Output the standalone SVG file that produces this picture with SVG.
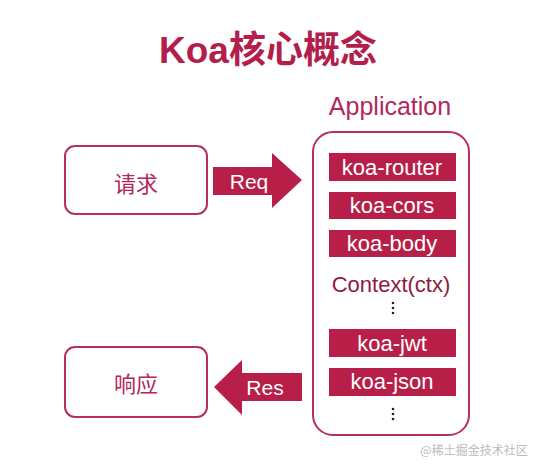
<svg xmlns="http://www.w3.org/2000/svg" width="539" height="470" viewBox="0 0 539 470">
<style>
.box{fill:#fff;stroke:#b8305a;stroke-width:2}
.mw{fill:#b81f48}
.wt{fill:#fff;font-family:"Liberation Sans",Arial,sans-serif;font-size:22px;text-anchor:middle}
.cn{fill:#b0285a;font-family:"Noto Sans CJK SC",sans-serif;font-size:22px;text-anchor:middle}
.dot{fill:#222}
</style>
<rect width="539" height="470" fill="#fff"/>
<g id="title"><text x="268" y="63" fill="#b31f4c" font-family="Liberation Sans,'Noto Sans CJK SC',sans-serif" font-weight="bold" font-size="37" text-anchor="middle">Koa核心概念</text></g>
<g id="request"><rect class="box" x="65" y="146" width="142" height="68" rx="10"/><text class="cn" x="136" y="192">请求</text></g>
<g id="response"><rect class="box" x="65" y="347" width="142" height="70" rx="10"/><text class="cn" x="136" y="392">响应</text></g>
<g id="application">
<text x="390" y="115" fill="#b0285a" font-family="Liberation Sans,Arial,sans-serif" font-size="25" text-anchor="middle">Application</text>
<rect x="313" y="132" width="156" height="303" rx="20" fill="#fff" stroke="#b8305a" stroke-width="2"/>
</g>
<g id="koa-router"><rect class="mw" x="329" y="153" width="127" height="28"/><text class="wt" x="392" y="175">koa-router</text></g>
<g id="koa-cors"><rect class="mw" x="329" y="192" width="127" height="27"/><text class="wt" x="392" y="213">koa-cors</text></g>
<g id="koa-body"><rect class="mw" x="329" y="230" width="127" height="27"/><text class="wt" x="392" y="251">koa-body</text></g>
<g id="context"><text x="391" y="292" fill="#8e1b3e" font-family="Liberation Sans,Arial,sans-serif" font-size="22" text-anchor="middle">Context(ctx)</text>
<circle class="dot" cx="393" cy="303" r="1.3"/><circle class="dot" cx="393" cy="308" r="1.3"/><circle class="dot" cx="393" cy="313" r="1.3"/></g>
<g id="koa-jwt"><rect class="mw" x="329" y="329" width="127" height="28"/><text class="wt" x="392" y="351">koa-jwt</text></g>
<g id="koa-json"><rect class="mw" x="329" y="368" width="127" height="28"/><text class="wt" x="392" y="389">koa-json</text></g>
<g id="more"><circle class="dot" cx="393" cy="409" r="1.3"/><circle class="dot" cx="393" cy="414" r="1.3"/><circle class="dot" cx="393" cy="419" r="1.3"/></g>
<g id="connectors">
<g id="req-arrow"><polygon class="mw" points="213,167 272,167 272,153 302,180 272,208 272,195 213,195"/><text class="wt" x="249" y="189" style="font-size:21px">Req</text></g>
<g id="res-arrow"><polygon class="mw" points="302,373 242,373 242,360 214,387 242,415 242,401 302,401"/><text class="wt" x="265" y="395" style="font-size:21px">Res</text></g>
</g>
<text x="474" y="455" fill="#bbb" font-family="'Noto Sans CJK SC',sans-serif" font-size="12" text-anchor="middle">@稀土掘金技术社区</text>
</svg>
